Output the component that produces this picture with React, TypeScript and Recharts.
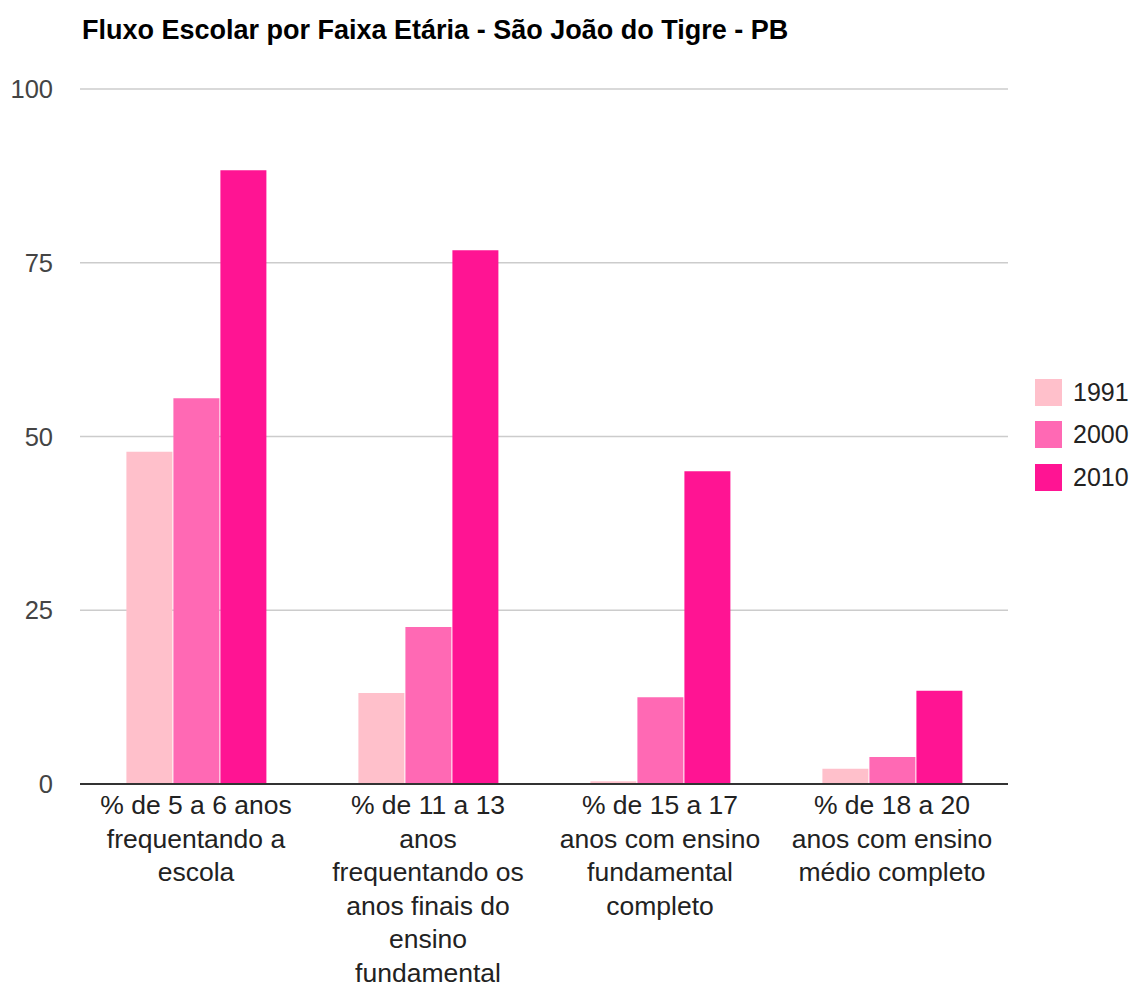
import React from "react";
import { BarChart, Bar, XAxis, YAxis, CartesianGrid } from "recharts";

const title = "Fluxo Escolar por Faixa Etária - São João do Tigre - PB";

const categories = [
  "% de 5 a 6 anos frequentando a escola",
  "% de 11 a 13 anos frequentando os anos finais do ensino fundamental",
  "% de 15 a 17 anos com ensino fundamental completo",
  "% de 18 a 20 anos com ensino médio completo",
];

const categoryLines = [
  ["% de 5 a 6 anos", "frequentando a", "escola"],
  ["% de 11 a 13", "anos", "frequentando os", "anos finais do", "ensino", "fundamental"],
  ["% de 15 a 17", "anos com ensino", "fundamental", "completo"],
  ["% de 18 a 20", "anos com ensino", "médio completo"],
];

const seriesNames = ["1991", "2000", "2010"];
const seriesColors = ["#FFC0CB", "#FF69B4", "#FF1493"];

const values1991 = [47.8, 13.1, 0.4, 2.2];
const values2000 = [55.5, 22.6, 12.5, 3.9];
const values2010 = [88.3, 76.8, 45.0, 13.4];

const yTicks = [0, 25, 50, 75, 100];

const data = categories.map((c, i) => ({
  name: c,
  "1991": values1991[i],
  "2000": values2000[i],
  "2010": values2010[i],
}));

const FONT = "'Liberation Sans', Arial, sans-serif";

const XTick = (props: any) => {
  const { x, payload } = props;
  const idx = categories.indexOf(payload.value);
  const lines = idx >= 0 ? categoryLines[idx] : [String(payload.value)];
  return (
    <g transform={`translate(${x},784)`}>
      {lines.map((l: string, i: number) => (
        <text
          key={i}
          x={0}
          y={30 + i * 33.6}
          textAnchor="middle"
          fontFamily={FONT}
          fontSize={26.5}
          fill="#222"
        >
          {l}
        </text>
      ))}
    </g>
  );
};

const YTick = (props: any) => {
  const { y, payload } = props;
  return (
    <text
      x={53}
      y={y + 9.1}
      textAnchor="end"
      fontFamily={FONT}
      fontSize={25.5}
      fill="#444"
    >
      {payload.value}
    </text>
  );
};

export default function App() {
  return (
    <div
      style={{
        position: "absolute",
        left: 0,
        top: 0,
        width: 1134,
        height: 988,
        background: "#fff",
      }}
    >
      <div
        style={{
          position: "absolute",
          left: 82,
          top: 17,
          fontFamily: FONT,
          fontWeight: "bold",
          fontSize: 27,
          lineHeight: "27px",
          color: "#000",
          whiteSpace: "nowrap",
          zIndex: 2,
        }}
      >
        {title}
      </div>
      <div
        style={{
          position: "absolute",
          left: 1035,
          top: 371,
          fontFamily: FONT,
          fontSize: 25,
          color: "#222",
          zIndex: 2,
        }}
      >
        {seriesNames.map((n, i) => (
          <div
            key={n}
            style={{ display: "flex", alignItems: "center", height: 42.5 }}
          >
            <div
              style={{
                width: 27,
                height: 27,
                background: seriesColors[i],
                marginRight: 11,
              }}
            />
            <span>{n}</span>
          </div>
        ))}
      </div>
      <BarChart
        width={1134}
        height={988}
        data={data}
        margin={{ top: 89, right: 126, bottom: 0, left: 0 }}
        barCategoryGap="20%"
        barGap={1}
      >
        <CartesianGrid vertical={false} stroke="#ccc" strokeWidth={1.5} />
        <XAxis
          dataKey="name"
          tick={<XTick />}
          tickLine={false}
          axisLine={{ stroke: "#333", strokeWidth: 2 }}
          interval={0}
          height={204}
        />
        <YAxis
          width={80}
          domain={[0, 100]}
          ticks={yTicks}
          tick={<YTick />}
          tickLine={false}
          axisLine={false}
        />
        {seriesNames.map((n, i) => (
          <Bar
            key={n}
            dataKey={n}
            fill={seriesColors[i]}
            isAnimationActive={false}
          />
        ))}
      </BarChart>
    </div>
  );
}
